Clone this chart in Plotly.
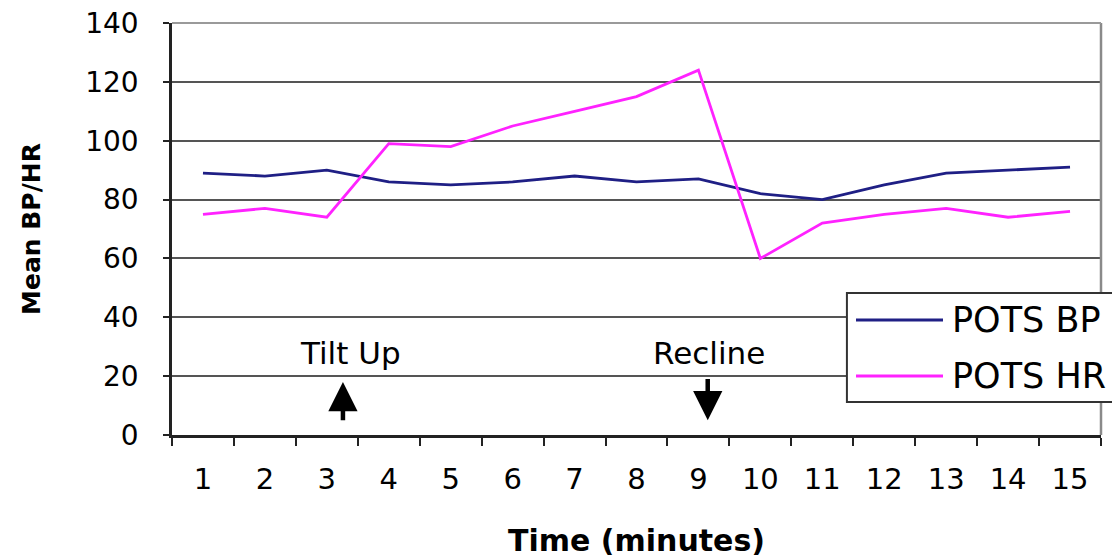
import plotly.graph_objects as go

# Time points (minutes) and mean values per minute
minutes = [str(m) for m in range(1, 16)]
pots_bp = [89, 88, 90, 86, 85, 86, 88, 86, 87, 82, 80, 85, 89, 90, 91]
pots_hr = [75, 77, 74, 99, 98, 105, 110, 115, 124, 60, 72, 75, 77, 74, 76]

series_names = ["POTS BP", "POTS HR"]
series_colors = ["#1f1f85", "#ff22ff"]
y_ticks = [0, 20, 40, 60, 80, 100, 120, 140]

FONT = "DejaVu Sans"

fig = go.Figure()
for name, vals, color in zip(series_names, [pots_bp, pots_hr], series_colors):
    fig.add_trace(go.Scatter(
        x=minutes, y=vals, mode="lines", name=name,
        line=dict(color=color, width=2.8), showlegend=False,
    ))

# Event markers: text labels with arrows
events = [
    # label, label x (category index), arrow x, arrow tip y, arrow tail y
    ("Tilt Up", 2.38, 2.26, 18.0, 4.5),
    ("Recline", 8.17, 8.15, 5.0, 19.5),
]
for label, lx, axx, tip, tail in events:
    fig.add_annotation(x=lx, y=28, xref="x", yref="y", text=label,
                       showarrow=False, font=dict(family=FONT, size=31, color="#000"))
    fig.add_annotation(x=axx, y=tip, ax=axx, ay=tail, xref="x", yref="y",
                       axref="x", ayref="y", text="", showarrow=True,
                       arrowhead=2, arrowsize=1.3, arrowwidth=4.5,
                       arrowcolor="#000", standoff=0, startstandoff=0)

# Plot-area border on the right side and a lighter top edge
fig.add_shape(type="line", xref="x domain", yref="y domain", x0=1, x1=1, y0=0, y1=1,
              line=dict(color="#8a8a8a", width=2.5))
fig.add_shape(type="line", xref="x domain", yref="y domain", x0=0, x1=1, y0=1, y1=1,
              line=dict(color="#9a9a9a", width=2))

# Legend box, drawn in paper coordinates
fig.add_shape(type="rect", xref="paper", yref="paper", x0=0.7265, x1=1.05,
              y0=(435 - 402) / 412, y1=(435 - 293) / 412,
              line=dict(color="#333", width=2), fillcolor="white", layer="above")
for i, (name, color) in enumerate(zip(series_names, series_colors)):
    ypix = 320 + i * 56
    yp = (435 - ypix) / 412
    fig.add_shape(type="line", xref="paper", yref="paper",
                  x0=(856 - 172) / 929, x1=(943 - 172) / 929, y0=yp, y1=yp,
                  line=dict(color=color, width=2.8), layer="above")
    fig.add_annotation(xref="paper", yref="paper", x=(950 - 172) / 929, y=yp,
                       xanchor="left", yanchor="middle", text=name, showarrow=False,
                       font=dict(family=FONT, size=35, color="#000"))

fig.update_layout(
    width=1112, height=558,
    margin=dict(l=172, r=11, t=23, b=123, autoexpand=False),
    paper_bgcolor="white", plot_bgcolor="white",
    font=dict(family=FONT, color="#000"),
    xaxis=dict(
        type="category", tickson="boundaries", ticks="outside", ticklen=8,
        tickwidth=2, tickcolor="#222", showline=True, linecolor="#222", linewidth=2.5,
        showgrid=False, tickfont=dict(family=FONT, size=29), ticklabelstandoff=16,
        title=dict(text="<b>Time (minutes)</b>", font=dict(family=FONT, size=30), standoff=38),
        range=[-0.5, 14.5],
    ),
    yaxis=dict(
        range=[0, 140], tickvals=y_ticks, ticks="outside", ticklen=6, tickwidth=2,
        tickcolor="#222", showline=True, linecolor="#222", linewidth=2.5,
        showgrid=True, gridcolor="#555", gridwidth=1.6, zeroline=False,
        tickfont=dict(family=FONT, size=28), ticklabelstandoff=19,
        title=dict(text="<b>Mean BP/HR</b>", font=dict(family=FONT, size=25), standoff=38),
    ),
)

fig.write_html("out.html")
